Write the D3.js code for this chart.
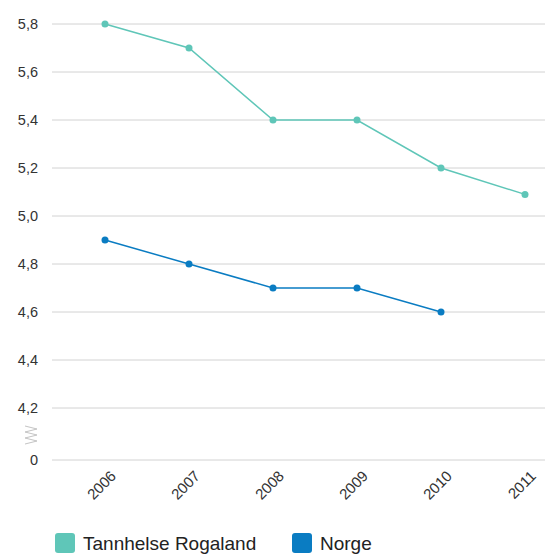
<!DOCTYPE html>
<html><head><meta charset="utf-8">
<script src="https://cdn.jsdelivr.net/npm/d3@7"></script>
<style>body{margin:0;background:#fff}svg{display:block}text{font-family:"Liberation Sans",Arial,Helvetica,sans-serif;fill:#333}</style>
</head><body><svg id="c" width="545" height="554"></svg>
<script>
const years = ["2006","2007","2008","2009","2010","2011"];
const rogaland = [5.8, 5.7, 5.4, 5.4, 5.2, 5.09];
const norge = [4.9, 4.8, 4.7, 4.7, 4.6, null];
const yTicks = [0, 4.2, 4.4, 4.6, 4.8, 5.0, 5.2, 5.4, 5.6, 5.8];
const seriesNames = ["Tannhelse Rogaland", "Norge"];
const colors = ["#5fc6b8", "#0a7cc2"];

const svg = d3.select("#c");
const x = d3.scalePoint().domain(years).range([105, 525]);
const y = d3.scaleLinear().domain([0, 4.2, 5.8]).range([460, 408, 24]);
const fmt = v => v === 0 ? "0" : d3.format(".1f")(v).replace(".", ",");

// grid
svg.append("g").selectAll("line").data(yTicks).join("line")
  .attr("x1", 52).attr("x2", 545)
  .attr("y1", d => y(d)).attr("y2", d => y(d))
  .attr("stroke", "#d2d2d2").attr("stroke-width", 1);
svg.append("g").selectAll("text").data(yTicks).join("text")
  .attr("x", 38).attr("y", d => y(d) + 5)
  .attr("text-anchor", "end").style("font-size", "14.5px").text(fmt);

// axis break
svg.append("path")
  .attr("d", "M25,426 L37,429 L25,432 L37,435 L25,438 L37,441 L25,444")
  .attr("fill", "none").attr("stroke", "#c4c4c4").attr("stroke-width", 1);

// x labels
svg.append("g").selectAll("text").data(years).join("text")
  .attr("text-anchor", "end").style("font-size", "15px")
  .attr("transform", d => `translate(${x(d) + 12},${477}) rotate(-45)`)
  .text(d => d);

// lines
[rogaland, norge].forEach((vals, i) => {
  const pts = years.map((yr, j) => ({yr, v: vals[j]})).filter(p => p.v != null);
  svg.append("path").datum(pts)
    .attr("d", d3.line().x(p => x(p.yr)).y(p => y(p.v)))
    .attr("fill", "none").attr("stroke", colors[i]).attr("stroke-width", 1.5);
  svg.append("g").selectAll("circle").data(pts).join("circle")
    .attr("cx", p => x(p.yr)).attr("cy", p => y(p.v)).attr("r", 3.5)
    .attr("fill", colors[i]);
});

// legend
const legX = [55, 292];
seriesNames.forEach((n, i) => {
  svg.append("rect").attr("x", legX[i]).attr("y", 533).attr("width", 20).attr("height", 20)
    .attr("rx", 3).attr("fill", colors[i]);
  svg.append("text").attr("x", legX[i] + 28).attr("y", 550)
    .style("font-size", "19px").style("fill", "#222").text(n);
});
</script></body></html>
